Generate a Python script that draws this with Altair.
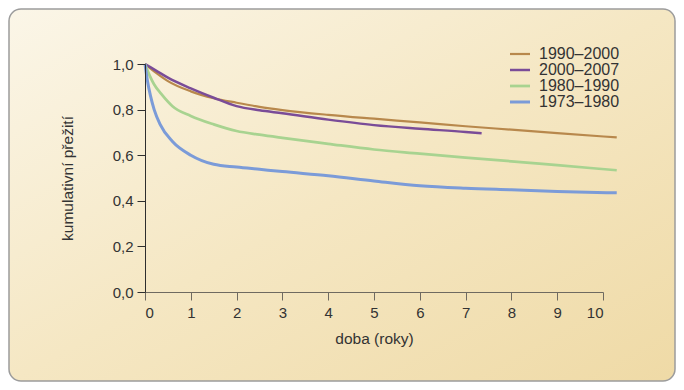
import altair as alt
import pandas as pd

# ---- data ----
series_order = ["1990–2000", "2000–2007", "1980–1990", "1973–1980"]
series_colors = ["#b8884c", "#7a4c98", "#a8d390", "#7b9bd8"]
series_widths = [2.2, 3.0, 2.2, 2.2]

t_1990 = [0, 0.25, 0.5, 1, 1.5, 2, 2.5, 3, 4, 5, 6, 7, 8, 9, 10.3]
s_1990 = [1.0, 0.96, 0.925, 0.88, 0.85, 0.83, 0.812, 0.798, 0.777, 0.76, 0.744, 0.727, 0.712, 0.697, 0.678]

t_2000 = [0, 0.25, 0.5, 1, 1.5, 2, 2.5, 3, 4, 5, 6, 7, 7.35]
s_2000 = [1.0, 0.97, 0.94, 0.893, 0.852, 0.815, 0.797, 0.784, 0.756, 0.732, 0.716, 0.702, 0.696]

t_1980 = [0, 0.1, 0.2, 0.35, 0.6, 1, 1.5, 2, 2.5, 3, 4, 5, 6, 7, 8, 9, 10.3]
s_1980 = [1.0, 0.95, 0.91, 0.87, 0.815, 0.772, 0.735, 0.706, 0.69, 0.676, 0.65, 0.625, 0.607, 0.589, 0.573, 0.556, 0.534]

t_1973 = [0, 0.05, 0.12, 0.2, 0.33, 0.6, 1, 1.5, 2, 2.5, 3, 4, 5, 6, 7, 8, 9, 10.3]
s_1973 = [1.0, 0.93, 0.86, 0.8, 0.735, 0.66, 0.6, 0.56, 0.548, 0.538, 0.528, 0.51, 0.487, 0.466, 0.455, 0.448, 0.441, 0.435]

x_ticks = list(range(0, 11))
y_ticks = [0.0, 0.2, 0.4, 0.6, 0.8, 1.0]

x_title = "doba (roky)"
y_title = "kumulativní přežití"

rows = []
for name, ts, ss in [
    ("1990–2000", t_1990, s_1990),
    ("2000–2007", t_2000, s_2000),
    ("1980–1990", t_1980, s_1980),
    ("1973–1980", t_1973, s_1973),
]:
    for t, s in zip(ts, ss):
        rows.append({"serie": name, "t": t, "s": s})
df = pd.DataFrame(rows)

FONT = "Liberation Sans"
TXT = "#333333"

W, H = 458, 228
PAD = {"left": 137, "top": 56, "right": 73, "bottom": 90}

background = alt.Chart(alt.Data(values=[{}])).mark_rect(
    cornerRadius=12,
    stroke="#9c9c9c",
    strokeWidth=1.5,
    fill=alt.Gradient(
        gradient="linear",
        stops=[
            alt.GradientStop(color="#fbf6e8", offset=0),
            alt.GradientStop(color="#f5e7c3", offset=0.5),
            alt.GradientStop(color="#efdaa6", offset=1),
        ],
        x1=0, y1=0, x2=1, y2=1,
    ),
).encode(
    x=alt.value(-136), x2=alt.value(530),
    y=alt.value(-55), y2=alt.value(317),
)

lines = alt.Chart(df).mark_line(interpolate="monotone").encode(
    x=alt.X("t:Q",
            scale=alt.Scale(domain=[0, 10], nice=False, zero=True),
            axis=alt.Axis(values=x_ticks, title=x_title, grid=False,
                          tickSize=8, labelPadding=5, titlePadding=11,
                          domainColor="#6f6a60", tickColor="#6f6a60",
                          format="d", zindex=1)),
    y=alt.Y("s:Q",
            scale=alt.Scale(domain=[0, 1], nice=False),
            axis=alt.Axis(values=y_ticks, title=y_title, grid=False,
                          tickSize=8, labelPadding=4, titlePadding=37, zindex=1,
                          labelExpr="replace(format(datum.value, '.1f'), '.', ',')")),
    color=alt.Color("serie:N",
                    scale=alt.Scale(domain=series_order, range=series_colors),
                    sort=series_order,
                    legend=alt.Legend(title=None, orient="none", legendX=367, legendY=-18,
                                      symbolType="M-2,0H2", symbolSize=100,
                                      symbolStrokeWidth=2.6, labelFontSize=16,
                                      labelColor=TXT, labelFont=FONT,
                                      rowPadding=0, labelOffset=11, zindex=1)),
    strokeWidth=alt.StrokeWidth("serie:N",
                                scale=alt.Scale(domain=series_order, range=series_widths),
                                legend=None),
    order=alt.Order("t:Q"),
)

chart = alt.layer(background, lines).properties(
    width=W, height=H,
    autosize=alt.AutoSizeParams(type="none"),
    padding=PAD,
    background="white",
).configure_view(strokeWidth=0).configure_axis(
    labelFont=FONT, titleFont=FONT, labelFontSize=15, titleFontSize=15.5,
    labelColor=TXT, titleColor=TXT, domainColor="#2e2e2e", tickColor="#2e2e2e",
    titleFontWeight="normal",
)

chart.save("out.html", embed_options={"renderer": "svg", "actions": False})
